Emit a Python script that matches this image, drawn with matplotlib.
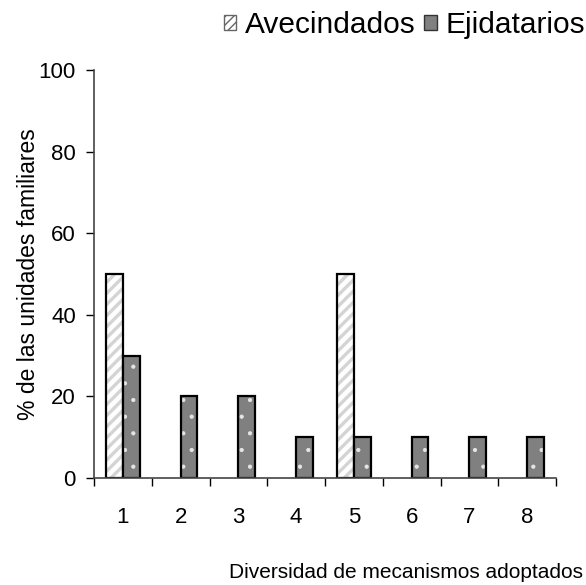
import matplotlib
matplotlib.use("Agg")
import matplotlib.pyplot as plt
import numpy as np
from matplotlib.patches import Patch

plt.rcParams["font.family"] = ["Liberation Sans", "DejaVu Sans"]

categorias = ["1", "2", "3", "4", "5", "6", "7", "8"]
avecindados = [50, 0, 0, 0, 50, 0, 0, 0]
ejidatarios = [30, 20, 20, 10, 10, 10, 10, 10]

fig = plt.figure(figsize=(5.86, 5.85), dpi=100)
ax = fig.add_axes([94 / 586, 1 - 478 / 585, (556 - 94) / 586, (478 - 70) / 585])

x = np.arange(1, len(categorias) + 1)
w = 0.29

# Avecindados: white with light grey diagonal stripes
with plt.rc_context({"hatch.linewidth": 2.4}):
    ax.bar(x - w / 2, avecindados, w, color="white", edgecolor="#d4d4d4",
           hatch="///", linewidth=0)
ax.bar(x - w / 2, avecindados, w, color="none",
       edgecolor=[("black" if v > 0 else "none") for v in avecindados], linewidth=1.6)
# Ejidatarios: grey with small white dots
with plt.rc_context({"hatch.linewidth": 0.6}):
    ax.bar(x + w / 2, ejidatarios, w, color="#808080", edgecolor="#e6e6e6",
           hatch=".", linewidth=0)
ax.bar(x + w / 2, ejidatarios, w, color="none", edgecolor="black", linewidth=1.6)

ax.set_xlim(0.5, len(categorias) + 0.5)
ax.set_ylim(0, 100)
ax.set_yticks(range(0, 101, 20))
ax.set_xticks(x)
ax.set_xticklabels(categorias)
ax.set_xticks(np.arange(0.5, len(categorias) + 1, 1), minor=True)
ax.tick_params(axis="x", which="major", length=0, pad=21, labelsize=16)
ax.tick_params(axis="x", which="minor", length=6, width=1, color="black")
ax.tick_params(axis="y", length=6, width=1, pad=7, labelsize=16, direction="out")

for s in ["top", "right"]:
    ax.spines[s].set_visible(False)
for s in ["left", "bottom"]:
    ax.spines[s].set_color("#444444")
    ax.spines[s].set_linewidth(1.2)

ax.set_ylabel("% de las unidades familiares", fontsize=16.5, labelpad=-1)
fig.text(583 / 586, 1 - 573 / 585, "Diversidad de mecanismos adoptados",
         ha="right", va="center", fontsize=15)

with plt.rc_context({"hatch.linewidth": 1.2}):
    handles = [
        Patch(facecolor="white", edgecolor="#666666", hatch="////", linewidth=1.0,
              label="Avecindados"),
        Patch(facecolor="#808080", edgecolor="#333333", linewidth=1.0,
              label="Ejidatarios"),
    ]
fig.legend(handles=handles, loc="upper right", bbox_to_anchor=(585 / 586, 1 - 11 / 585),
           ncol=2, frameon=False, fontsize=21.5, handlelength=0.42,
           handleheight=0.42, handletextpad=0.28, columnspacing=0.3,
           borderaxespad=0, borderpad=0)

fig.savefig("out.png", dpi=100)
